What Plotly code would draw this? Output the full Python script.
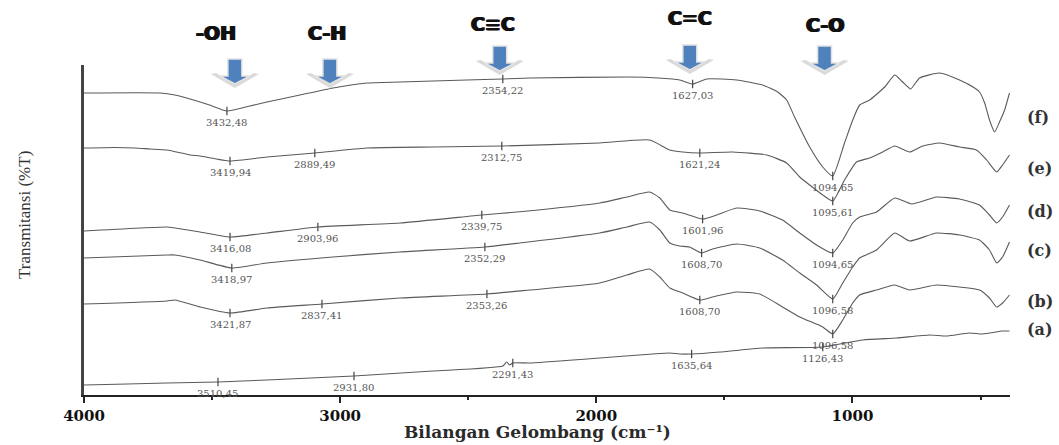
import plotly.graph_objects as go

# ---------------- data ----------------
# wavenumber (cm-1) and stacked transmittance (arbitrary offset units)
wn_f = [4000, 3703, 3645, 3586, 3510, 3442, 3352, 3286, 3157, 3028, 2896, 2767, 2506, 2365, 2260,
        1870, 1760, 1674, 1624, 1569, 1452, 1351, 1292, 1257, 1226, 1167, 1116, 1077, 1031, 999,
        972, 933, 874, 835, 804, 773, 738, 660, 582, 523, 504, 484, 465, 445, 426, 406, 387]
t_f = [302, 302, 300, 296, 290, 284, 289, 293, 300, 307, 312, 313, 315, 316, 317,
       318, 317, 315, 311, 316, 315, 310, 303, 295, 278, 248, 228, 219, 252, 275,
       290, 295, 308, 320, 313, 306, 317, 322, 315, 307, 303, 292, 275, 263, 273, 285, 302]
mark_wn_f = [3442, 2365, 1624, 1077]
mark_lab_f = ["3432,48", "2354,22", "1627,03", "1094,65"]

wn_e = [4000, 3879, 3801, 3742, 3676, 3586, 3547, 3430, 3286, 3099, 2896, 2638,
        2369, 1987, 1792, 1713, 1663, 1596, 1468, 1335, 1257, 1206, 1167, 1116, 1077, 1031, 984,
        933, 882, 835, 777, 726, 660, 582, 516, 476, 437, 414, 387]
t_e = [247, 247.5, 247, 246, 245, 240, 239, 234, 238, 242, 247, 248,
       249, 252, 255, 245, 243, 242, 243, 240, 232, 218, 210, 200, 194, 215, 233,
       237, 243, 249, 243, 249, 252, 248, 245, 235, 223, 230, 240]
mark_wn_e = [3430, 3099, 2369, 1596, 1077]
mark_lab_e = ["3419,94", "2889,49", "2312,75", "1621,24", "1095,61"]

wn_d = [4000, 3676, 3645, 3547, 3430, 3286, 3087, 2767, 2447, 2310, 1987, 1881, 1792, 1752, 1713,
        1663, 1585, 1530, 1452, 1362, 1273, 1206, 1140, 1077, 1038, 999, 972, 906, 835, 769,
        672, 582, 504, 465, 437, 414, 387]
t_d = [164, 168, 167, 163, 158, 162, 168, 172, 180, 183, 192, 198, 203, 197, 185,
       182, 176, 180, 187, 184, 175, 162, 150, 142, 155, 172, 178, 183, 197, 191,
       198, 196, 190, 180, 172, 178, 190]
mark_wn_d = [3430, 3087, 2447, 1585, 1077]
mark_lab_d = ["3416,08", "2903,96", "2339,75", "1601,96", "1094,65"]

wn_c = [4000, 3676, 3645, 3547, 3423, 3286, 3028, 2767, 2435, 2299, 1987, 1881, 1792, 1752, 1713,
        1674, 1636, 1589, 1546, 1452, 1362, 1273, 1206, 1140, 1077, 1038, 999, 972, 906, 835,
        777, 672, 582, 504, 465, 437, 414, 387]
t_c = [137, 140, 140, 135, 127, 132, 138, 143, 148, 152, 162, 168, 173, 165, 152,
       149, 148, 142, 146, 151, 147, 135, 122, 110, 96, 112, 128, 137, 145, 162,
       154, 162, 160, 155, 145, 132, 138, 153]
mark_wn_c = [3423, 2435, 1589, 1077]
mark_lab_c = ["3418,97", "2352,29", "1608,70", "1096,58"]

wn_b = [4000, 3676, 3645, 3547, 3430, 3286, 3071, 2767, 2427, 2260, 1987, 1881, 1792, 1752, 1713,
        1663, 1596, 1546, 1452, 1362, 1273, 1206, 1116, 1077, 1038, 999, 972, 906, 835, 777,
        672, 582, 504, 465, 437, 414, 387]
t_b = [91, 94, 95, 88, 82, 87, 91, 97, 101, 105, 112, 120, 126, 118, 107,
       102, 95, 98, 103, 101, 88, 78, 68, 61, 75, 92, 100, 105, 110, 105,
       110, 108, 105, 97, 88, 92, 100]
mark_wn_b = [3430, 3071, 2427, 1596, 1077]
mark_lab_b = ["3421,87", "2837,41", "2353,26", "1608,70", "1096,58"]

wn_a = [4000, 3832, 3676, 3477, 3286, 2946, 2638, 2365, 2350, 2338, 2326, 2260, 2037, 1780, 1713,
        1674, 1628, 1518, 1351, 1116, 960, 828, 699, 633, 543, 492, 414, 387]
t_a = [10, 11, 12, 13, 15, 19, 24, 29, 33, 30, 32, 32, 36, 41, 42,
       41, 41, 43, 47, 48, 55, 57, 60, 59, 62, 61, 64, 64]
mark_wn_a = [3477, 2946, 2326, 1628, 1116]
mark_lab_a = ["3510,45", "2931,80", "2291,43", "1635,64", "1126,43"]

series_names = ["(f)", "(e)", "(d)", "(c)", "(b)", "(a)"]

# functional-group markers
group_labels = ["-OH", "C-H", "C\u2261C", "C=C", "C-O"]
group_wn = [3411, 3040, 2377, 1635, 1109]

# ---------------- figure ----------------
spectra = [
    (wn_f, t_f, mark_wn_f, mark_lab_f),
    (wn_e, t_e, mark_wn_e, mark_lab_e),
    (wn_d, t_d, mark_wn_d, mark_lab_d),
    (wn_c, t_c, mark_wn_c, mark_lab_c),
    (wn_b, t_b, mark_wn_b, mark_lab_b),
    (wn_a, t_a, mark_wn_a, mark_lab_a),
]

LINE = "#5a5a5a"
fig = go.Figure()
annotations = []
for wn, t, mwn, mlab in spectra:
    fig.add_trace(go.Scatter(
        x=wn, y=t, mode="lines",
        line=dict(color=LINE, width=1.1, shape="spline", smoothing=0.5),
        hoverinfo="skip", showlegend=False))
    lookup = dict(zip(wn, t))
    my = [lookup[w] for w in mwn]
    fig.add_trace(go.Scatter(
        x=mwn, y=my, mode="markers",
        marker=dict(symbol="line-ns", size=6, line=dict(width=1.2, color="#444")),
        hoverinfo="skip", showlegend=False))
    for w, y, lab in zip(mwn, my, mlab):
        annotations.append(dict(
            x=w, y=y, xref="x", yref="y", text=lab, showarrow=False, yshift=-11,
            font=dict(family="DejaVu Serif", size=10, color="#555")))

# series labels at the right
label_y = [0.842, 0.685, 0.555, 0.437, 0.282, 0.200]
for name, yy in zip(series_names, label_y):
    annotations.append(dict(
        x=1.016, y=yy, xref="paper", yref="paper", xanchor="left", yanchor="middle",
        text=name, showarrow=False,
        font=dict(family="DejaVu Serif", size=16, color="#333", weight="bold")))

# functional group titles
group_text_wn = [3485, 3052, 2404, 1635, 1109]
group_text_y = [1.097, 1.097, 1.124, 1.142, 1.121]
for lab, w, yy in zip(group_labels, group_text_wn, group_text_y):
    annotations.append(dict(
        x=w, y=yy, xref="x", yref="paper", text=lab, showarrow=False,
        xanchor="center", yanchor="middle",
        font=dict(family="DejaVu Sans", size=19, color="#111", weight="bold",
                  shadow="0.9px 0 0 #111, -0.9px 0 0 #111")))

# arrows (pixel-sized shapes anchored at the group wavenumbers)
arrow_tip_y = [0.9424, 0.9424, 0.9818, 0.985, 0.9818]
shadow_path = "M -24 10 L 0 -4 L 24 10 L 19 11 L 0 0 L -19 11 Z"
arrow_path = "M -7 25 L 7 25 L 7 8 L 15 8 L 0 0 L -15 8 L -7 8 Z"
shapes = []
for w, yy in zip(group_wn, arrow_tip_y):
    shapes.append(dict(
        type="path", xref="x", yref="paper", xsizemode="pixel", ysizemode="pixel",
        xanchor=w, yanchor=yy, path=shadow_path,
        fillcolor="#d4d4d4", line=dict(width=0), opacity=0.85, layer="above"))
    shapes.append(dict(
        type="path", xref="x", yref="paper", xsizemode="pixel", ysizemode="pixel",
        xanchor=w, yanchor=yy, path=arrow_path,
        fillcolor="#4f81bd", line=dict(width=1.5, color="#e2e2e2"), layer="above"))

# axis titles
annotations.append(dict(
    x=0.49, y=-0.111, xref="paper", yref="paper", xanchor="center", yanchor="middle",
    text="Bilangan Gelombang (cm\u207b\u00b9)", showarrow=False,
    font=dict(family="DejaVu Serif", size=17, color="#2a2a2a", weight="bold")))
annotations.append(dict(
    x=-0.065, y=0.545, xref="paper", yref="paper", xanchor="center", yanchor="middle",
    text="Transmitansi (%T)", showarrow=False, textangle=-90,
    font=dict(family="Liberation Serif", size=17, color="#333")))

fig.update_layout(
    width=1059, height=445,
    margin=dict(l=84, r=49, t=65, b=50),
    paper_bgcolor="white", plot_bgcolor="white",
    xaxis=dict(
        range=[4000, 385], showline=True, linecolor="#222", linewidth=1.5,
        ticks="outside", ticklen=6, tickwidth=1.5, tickcolor="#222",
        tick0=0, dtick=1000, showgrid=False, zeroline=False,
        tickfont=dict(family="DejaVu Serif", size=15, color="#111", weight="bold"),
        minor=dict(tick0=0, dtick=500, ticks="outside", ticklen=3, tickwidth=1.5,
                   tickcolor="#222", showgrid=False)),
    yaxis=dict(
        range=[0, 330], showline=True, linecolor="#444", linewidth=3,
        showticklabels=False, ticks="", showgrid=False, zeroline=False),
    annotations=annotations,
    shapes=shapes,
)

fig.write_html("out.html", config={"displayModeBar": False},
               post_script="document.body.style.margin='0';document.body.style.overflow='hidden';")
